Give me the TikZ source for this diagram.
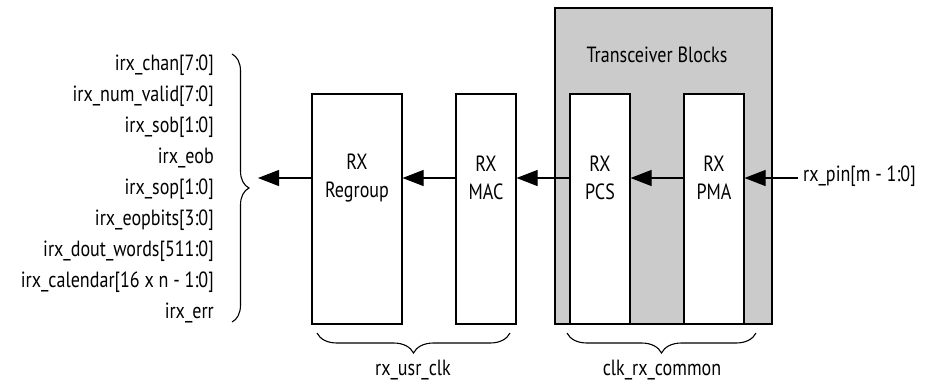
\documentclass[tikz,border=0pt]{standalone}
\usepackage{fontspec}
\setmainfont[FakeStretch=0.82]{PT Sans}
\usetikzlibrary{arrows.meta,decorations.pathreplacing}
\definecolor{xgray}{HTML}{CBCBCB}
\tikzset{
  box/.style={draw=black, line width=1.1pt, fill=white, inner sep=0pt},
  grp/.style={draw=black, line width=1.1pt, fill=xgray, inner sep=0pt},
  txt/.style={font=\fontsize{22}{25}\selectfont, align=center, inner sep=0pt},
  arr/.style={line width=1.1pt, -{Triangle[length=21pt,width=16pt]}},
  brc/.style={line width=1.1pt, decorate, decoration={brace, amplitude=#1}},
}
\begin{document}
\begin{tikzpicture}[x=1pt,y=-1pt]
\useasboundingbox (0,0) rectangle (931,384);
% gray transceiver region
\node[grp, minimum width=217pt, minimum height=316pt] (xcvr) at (663.5,166) {};
\node[txt] (xcvrlbl) at (657,55) {Transceiver Blocks};
% blocks
\node[box, minimum width=90pt, minimum height=230pt] (regroup) at (357,209) {};
\node[box, minimum width=60pt, minimum height=230pt] (mac) at (486,209) {};
\node[box, minimum width=60pt, minimum height=230pt] (pcs) at (600,209) {};
\node[box, minimum width=60pt, minimum height=230pt] (pma) at (714,209) {};
\coordinate (ay) at (0,178);
\node[txt] (regrouplbl) at (regroup.center |- ay) {RX\\[3pt]Regroup};
\node[txt] (maclbl) at (mac.center |- ay) {RX\\[3pt]MAC};
\node[txt] (pcslbl) at (pcs.center |- ay) {RX\\[3pt]PCS};
\node[txt] (pmalbl) at (pma.center |- ay) {RX\\[3pt]PMA};
% input pin
\node[txt, anchor=west] (rxpin) at (803,176) {rx\_pin[m - 1:0]};
\coordinate (pinend) at (798,178);
\draw[arr] (pinend) -- (pma.east |- ay);
\draw[arr] (pma.west |- ay) -- (pcs.east |- ay);
\draw[arr] (pcs.west |- ay) -- (mac.east |- ay);
\draw[arr] (mac.west |- ay) -- (regroup.east |- ay);
\coordinate (outtip) at (258,178);
\draw[arr] (regroup.west |- ay) -- (outtip);
% output signals
\node[txt, anchor=east, align=right, font=\fontsize{22}{31}\selectfont] (sigs) at (214,189)
 {irx\_chan[7:0]\\irx\_num\_valid[7:0]\\irx\_sob[1:0]\\irx\_eob\\irx\_sop[1:0]\\irx\_eopbits[3:0]\\irx\_dout\_words[511:0]\\irx\_calendar[16 x n - 1:0]\\irx\_err};
\coordinate (lbt) at (232,54);
\coordinate (lbb) at (232,322);
\draw[brc=17pt] (lbt) -- (lbb);
% bottom braces
\coordinate (ub1) at (510,333);
\coordinate (ub2) at (317,333);
\draw[brc=20pt] (ub1) -- (ub2);
\coordinate (cb1) at (756,333);
\coordinate (cb2) at (567,333);
\draw[brc=20pt] (cb1) -- (cb2);
\node[txt] (usrclk) at (413,370) {rx\_usr\_clk};
\node[txt] (rxcommon) at (662,370) {clk\_rx\_common};
\end{tikzpicture}
\end{document}
